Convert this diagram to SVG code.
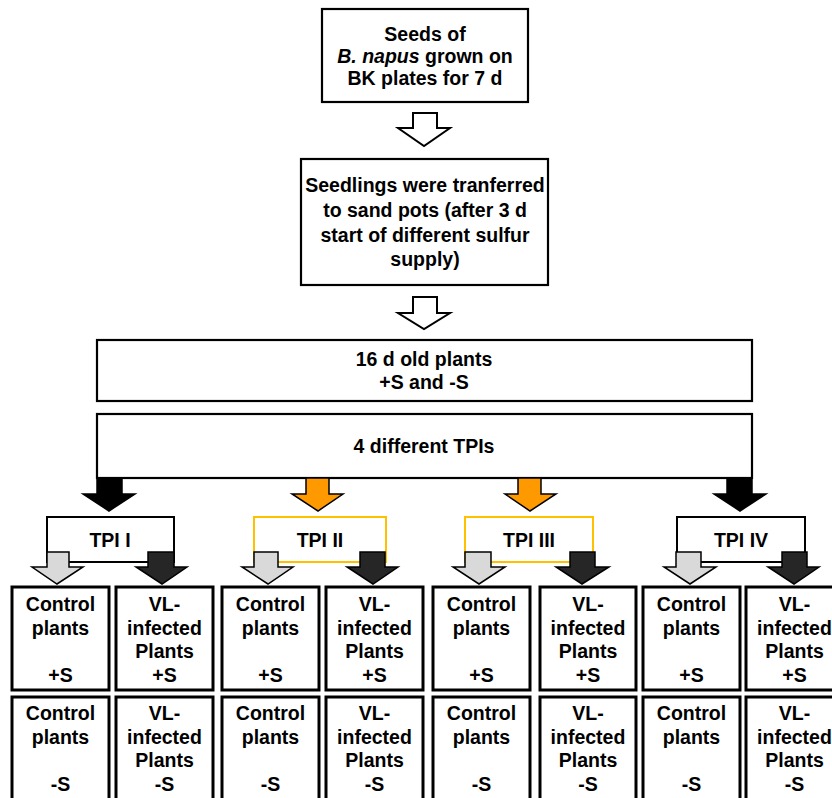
<svg xmlns="http://www.w3.org/2000/svg" width="832" height="798" viewBox="0 0 832 798">
<style>
  .box { fill: #fff; stroke: #000; stroke-width: 2.2; }
  .cell { fill: #fff; stroke: #000; stroke-width: 3; }
  .tpi { fill: #fff; stroke: #000; stroke-width: 2; }
  .tpio { fill: #fff; stroke: #FFC000; stroke-width: 2; }
  text { font-family: "Liberation Sans", Arial, sans-serif; font-weight: bold; font-size: 19.5px; fill: #000; text-anchor: middle; }
  .hollow { fill: #fff; stroke: #000; stroke-width: 2; }
  .blk { fill: #000; stroke: #000; stroke-width: 1.5; }
  .org { fill: #FF9900; stroke: #000; stroke-width: 1.5; }
  .gry { fill: #D9D9D9; stroke: #000; stroke-width: 1.5; }
  .drk { fill: #262626; stroke: #000; stroke-width: 1.5; }
</style>
<rect width="832" height="798" fill="#fff"/>

<g id="seeds">
  <rect class="box" x="322" y="9" width="206" height="93"/>
  <text x="425" y="41">Seeds of</text>
  <text x="425" y="63"><tspan font-style="italic">B. napus</tspan> grown on</text>
  <text x="425" y="85">BK plates for 7 d</text>
</g>

<g id="seedlings">
  <rect class="box" x="301" y="159" width="247" height="126"/>
  <text x="425" y="192">Seedlings were tranferred</text>
  <text x="425" y="217">to sand pots (after 3 d</text>
  <text x="425" y="242">start of different sulfur</text>
  <text x="425" y="266">supply)</text>
</g>

<g id="plants16">
  <rect class="box" x="97" y="340" width="655" height="61"/>
  <text x="424" y="366">16 d old plants</text>
  <text x="424" y="389">+S and -S</text>
</g>

<g id="tpis">
  <rect class="box" x="97" y="414" width="655" height="64"/>
  <text x="424" y="453">4 different TPIs</text>
</g>

<g id="tpi1">
  <rect class="tpi" x="47" y="517" width="127" height="45"/>
  <text x="110" y="547">TPI I</text>
</g>
<g id="tpi2">
  <rect class="tpio" x="254" y="517" width="132" height="45"/>
  <text x="320" y="547">TPI II</text>
</g>
<g id="tpi3">
  <rect class="tpio" x="465" y="517" width="128" height="45"/>
  <text x="529" y="547">TPI III</text>
</g>
<g id="tpi4">
  <rect class="tpi" x="677" y="517" width="128" height="45"/>
  <text x="741" y="547">TPI IV</text>
</g>

<g id="connectors">
  <path class="hollow" d="M413 113 H437 V128 H450 L424 146 L398 128 H413 Z"/>
  <path class="hollow" d="M413 297 H437 V313 H450 L424 329 L398 313 H413 Z"/>
  <path class="blk" d="M97 478 H122 V494 H135 L109 511 L83 494 H97 Z"/>
  <path class="org" d="M306 478 H329 V494 H343 L318 511 L292 494 H306 Z"/>
  <path class="org" d="M518 478 H541 V494 H556 L530 511 L505 494 H518 Z"/>
  <path class="blk" d="M727 478 H752 V494 H766 L740 511 L714 494 H727 Z"/>

  <path class="gry" d="M47 552 H69 V567 H83 L57 584 L32 567 H47 Z"/>
  <path class="drk" d="M148 552 H174 V567 H187 L162 584 L136 567 H148 Z"/>
  <path class="gry" d="M254 552 H278 V567 H293 L268 584 L242 567 H254 Z"/>
  <path class="drk" d="M360 552 H385 V567 H398 L373 584 L347 567 H360 Z"/>
  <path class="gry" d="M465 552 H491 V567 H505 L479 584 L453 567 H465 Z"/>
  <path class="drk" d="M570 552 H595 V567 H609 L582 584 L556 567 H570 Z"/>
  <path class="gry" d="M676 552 H701 V567 H716 L690 584 L664 567 H676 Z"/>
  <path class="drk" d="M782 552 H807 V567 H819 L794 584 L768 567 H782 Z"/>
</g>

<g id="c1p">
  <rect class="cell" x="12" y="587" width="97" height="103"/>
  <text x="60.5" y="611">Control</text><text x="60.5" y="634.5">plants</text><text x="60.5" y="681.5">+S</text>
</g>
<g id="v1p">
  <rect class="cell" x="116" y="587" width="97" height="103"/>
  <text x="164.5" y="611">VL-</text><text x="164.5" y="634.5">infected</text><text x="164.5" y="658">Plants</text><text x="164.5" y="681.5">+S</text>
</g>
<g id="c2p">
  <rect class="cell" x="222" y="587" width="97" height="103"/>
  <text x="270.5" y="611">Control</text><text x="270.5" y="634.5">plants</text><text x="270.5" y="681.5">+S</text>
</g>
<g id="v2p">
  <rect class="cell" x="326" y="587" width="97" height="103"/>
  <text x="374.5" y="611">VL-</text><text x="374.5" y="634.5">infected</text><text x="374.5" y="658">Plants</text><text x="374.5" y="681.5">+S</text>
</g>
<g id="c3p">
  <rect class="cell" x="433" y="587" width="97" height="103"/>
  <text x="481.5" y="611">Control</text><text x="481.5" y="634.5">plants</text><text x="481.5" y="681.5">+S</text>
</g>
<g id="v3p">
  <rect class="cell" x="540" y="587" width="96" height="103"/>
  <text x="588" y="611">VL-</text><text x="588" y="634.5">infected</text><text x="588" y="658">Plants</text><text x="588" y="681.5">+S</text>
</g>
<g id="c4p">
  <rect class="cell" x="643" y="587" width="97" height="103"/>
  <text x="691.5" y="611">Control</text><text x="691.5" y="634.5">plants</text><text x="691.5" y="681.5">+S</text>
</g>
<g id="v4p">
  <rect class="cell" x="746" y="587" width="97" height="103"/>
  <text x="794.5" y="611">VL-</text><text x="794.5" y="634.5">infected</text><text x="794.5" y="658">Plants</text><text x="794.5" y="681.5">+S</text>
</g>

<g id="c1m">
  <rect class="cell" x="12" y="697" width="97" height="110"/>
  <text x="60.5" y="720">Control</text><text x="60.5" y="743.5">plants</text><text x="60.5" y="791">-S</text>
</g>
<g id="v1m">
  <rect class="cell" x="116" y="697" width="97" height="110"/>
  <text x="164.5" y="720">VL-</text><text x="164.5" y="743.5">infected</text><text x="164.5" y="767">Plants</text><text x="164.5" y="791">-S</text>
</g>
<g id="c2m">
  <rect class="cell" x="222" y="697" width="97" height="110"/>
  <text x="270.5" y="720">Control</text><text x="270.5" y="743.5">plants</text><text x="270.5" y="791">-S</text>
</g>
<g id="v2m">
  <rect class="cell" x="326" y="697" width="97" height="110"/>
  <text x="374.5" y="720">VL-</text><text x="374.5" y="743.5">infected</text><text x="374.5" y="767">Plants</text><text x="374.5" y="791">-S</text>
</g>
<g id="c3m">
  <rect class="cell" x="433" y="697" width="97" height="110"/>
  <text x="481.5" y="720">Control</text><text x="481.5" y="743.5">plants</text><text x="481.5" y="791">-S</text>
</g>
<g id="v3m">
  <rect class="cell" x="540" y="697" width="96" height="110"/>
  <text x="588" y="720">VL-</text><text x="588" y="743.5">infected</text><text x="588" y="767">Plants</text><text x="588" y="791">-S</text>
</g>
<g id="c4m">
  <rect class="cell" x="643" y="697" width="97" height="110"/>
  <text x="691.5" y="720">Control</text><text x="691.5" y="743.5">plants</text><text x="691.5" y="791">-S</text>
</g>
<g id="v4m">
  <rect class="cell" x="746" y="697" width="97" height="110"/>
  <text x="794.5" y="720">VL-</text><text x="794.5" y="743.5">infected</text><text x="794.5" y="767">Plants</text><text x="794.5" y="791">-S</text>
</g>
</svg>
